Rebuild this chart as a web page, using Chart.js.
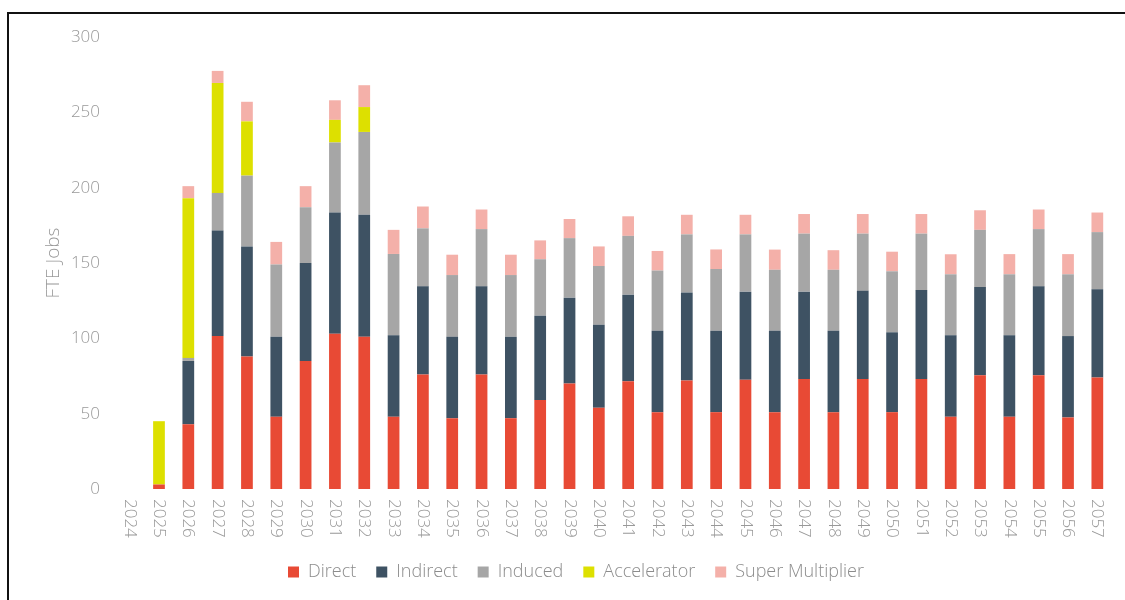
<!DOCTYPE html>
<html lang="en">
<head>
    <meta charset="UTF-8">
    <title>FTE Jobs</title>
    <script src="https://cdn.jsdelivr.net/npm/chart.js"></script>
    <style>
        html, body {
            margin: 0;
            padding: 0;
            background: #fff;
        }
        #frame {
            position: absolute;
            left: 7px;
            top: 12px;
            width: 1125px;
            height: 600px;
            border-top: 2px solid #111;
            border-left: 2px solid #111;
        }
        #chartContainer {
            position: absolute;
            left: 0;
            top: 0;
            width: 1125px;
            height: 600px;
        }
    </style>
</head>
<body>
    <div id="frame"></div>
    <div id="chartContainer">
        <canvas id="jobsChart"></canvas>
    </div>

    <script>
        const years = ['2024', '2025', '2026', '2027', '2028', '2029', '2030', '2031', '2032', '2033',
            '2034', '2035', '2036', '2037', '2038', '2039', '2040', '2041', '2042', '2043',
            '2044', '2045', '2046', '2047', '2048', '2049', '2050', '2051', '2052', '2053',
            '2054', '2055', '2056', '2057'];

        const direct = [0, 3, 43, 101.5, 88, 48, 85, 103, 101, 48,
            76, 47, 76, 47, 59, 70, 54, 71.5, 51, 72,
            51, 72.5, 51, 73, 51, 73, 51, 73, 48, 75.5,
            48, 75.5, 47.5, 74];
        const indirect = [0, 0, 42, 70, 73, 53, 65, 80.5, 81, 54,
            58.5, 54, 58.5, 54, 56, 57, 55, 57.5, 54, 58.5,
            54, 58.5, 54, 58, 54, 58.5, 53, 59, 54, 58.5,
            54, 59, 54, 58.5];
        const induced = [0, 0, 2, 25, 47, 48, 37, 46.5, 55, 54,
            38.5, 41, 38, 41, 37.5, 39.5, 39, 39, 40, 38.5,
            41, 38, 40.5, 38.5, 40.5, 38, 40.5, 37.5, 40.5, 38,
            40.5, 38, 41, 38];
        const accelerator = [0, 42, 106, 73, 36, 0, 0, 15, 16.5, 0,
            0, 0, 0, 0, 0, 0, 0, 0, 0, 0,
            0, 0, 0, 0, 0, 0, 0, 0, 0, 0,
            0, 0, 0, 0];
        const superMultiplier = [0, 0, 8, 8, 13, 15, 14, 13, 14.5, 16,
            14.5, 13.5, 13, 13.5, 12.5, 12.7, 13, 13, 13, 13,
            13, 13, 13.4, 13, 13, 13, 13, 13, 13.3, 13,
            13.4, 13, 13.4, 13];

        const yTicks = [0, 50, 100, 150, 200, 250, 300];

        const fontFamily = "'Open Sans', 'Noto Sans', sans-serif";
        const textGrey = '#999999';

        // x labels read top-to-bottom in the original, so draw them ourselves
        const verticalLabels = {
            id: 'verticalLabels',
            afterDraw(chart) {
                const xScale = chart.scales.x;
                const ctx = chart.ctx;
                ctx.save();
                ctx.fillStyle = textGrey;
                ctx.font = '300 17px ' + fontFamily;
                ctx.textAlign = 'left';
                ctx.textBaseline = 'middle';
                years.forEach((label, i) => {
                    const x = xScale.getPixelForTick(i);
                    ctx.save();
                    ctx.translate(x, xScale.top + 10);
                    ctx.rotate(Math.PI / 2);
                    ctx.fillText(label, 0, 0);
                    ctx.restore();
                });
                ctx.restore();
            }
        };

        function makeSet(label, data, color) {
            return {
                label: label,
                data: data,
                backgroundColor: color,
                borderWidth: 0,
                barPercentage: 0.8,
                categoryPercentage: 0.5
            };
        }

        const ctx = document.getElementById('jobsChart').getContext('2d');
        const chart = new Chart(ctx, {
            type: 'bar',
            data: {
                labels: years,
                datasets: [
                    makeSet('Direct', direct, '#E84A35'),
                    makeSet('Indirect', indirect, '#3E5263'),
                    makeSet('Induced', induced, '#A6A6A6'),
                    makeSet('Accelerator', accelerator, '#DDE000'),
                    makeSet('Super Multiplier', superMultiplier, '#F4B0A9')
                ]
            },
            options: {
                responsive: true,
                maintainAspectRatio: false,
                animation: false,
                layout: {
                    padding: { top: 37, left: 40, right: 13, bottom: 9 }
                },
                plugins: {
                    tooltip: { enabled: false },
                    legend: {
                        position: 'bottom',
                        labels: {
                            boxWidth: 11,
                            boxHeight: 11,
                            padding: 20,
                            color: '#8c8c8c',
                            font: { family: fontFamily, size: 18, weight: '300' }
                        }
                    }
                },
                scales: {
                    x: {
                        stacked: true,
                        grid: { display: false, drawTicks: false },
                        border: { display: false },
                        ticks: { display: false },
                        afterFit(scale) { scale.height = 54; }
                    },
                    y: {
                        stacked: true,
                        min: 0,
                        max: 300,
                        afterBuildTicks(scale) {
                            scale.ticks = yTicks.map(v => ({ value: v }));
                        },
                        afterFit(scale) { scale.width = 75; },
                        grid: { display: false, drawTicks: false },
                        border: { display: false },
                        title: {
                            display: true,
                            text: 'FTE Jobs',
                            color: textGrey,
                            font: { family: fontFamily, size: 19, weight: '300' },
                            padding: { top: 2, bottom: 0 }
                        },
                        ticks: {
                            color: textGrey,
                            padding: 15,
                            font: { family: fontFamily, size: 17, weight: '300' }
                        }
                    }
                }
            },
            plugins: [verticalLabels]
        });
    </script>
</body>
</html>
